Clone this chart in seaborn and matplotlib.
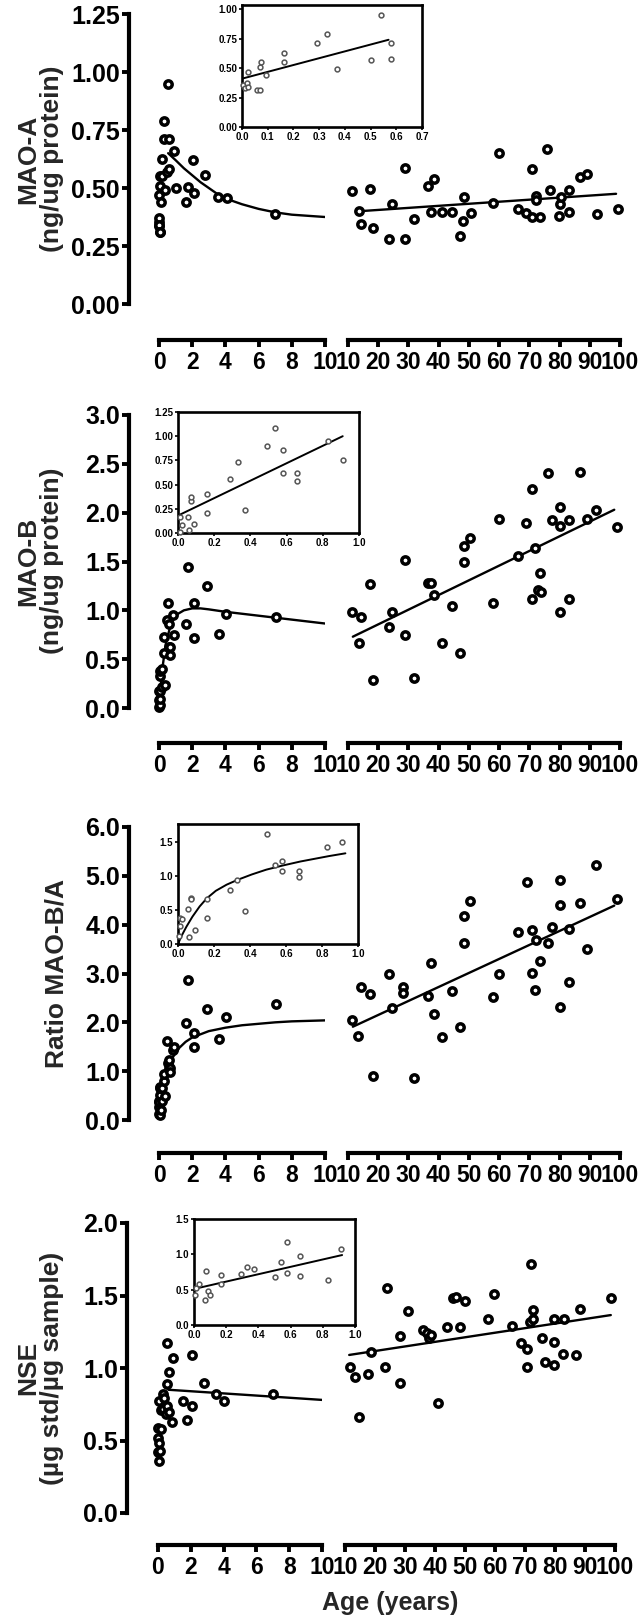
import numpy as np
import seaborn as sns
import matplotlib.pyplot as plt

# ---- values ----
left_ticks = [0, 2, 4, 6, 8, 10]
right_ticks = [10, 20, 30, 40, 50, 60, 70, 80, 90, 100]

# MAO-A
a_inf_x = [0.005, 0.01, 0.02, 0.025, 0.025, 0.06, 0.07, 0.07, 0.075, 0.095, 0.165, 0.165, 0.29, 0.33, 0.37, 0.50, 0.54, 0.58, 0.58]
a_inf_y = [0.355, 0.335, 0.37, 0.47, 0.34, 0.31, 0.31, 0.51, 0.55, 0.44, 0.625, 0.55, 0.71, 0.79, 0.49, 0.57, 0.95, 0.71, 0.58]
a_child_x = [0.92, 1.0, 1.6, 1.75, 2.05, 2.1, 2.8, 3.55, 4.1, 7.0]
a_child_y = [0.66, 0.50, 0.44, 0.505, 0.62, 0.48, 0.555, 0.46, 0.455, 0.39]
a_curve_x = [0.55, 1, 1.5, 2, 2.5, 3, 3.5, 4, 5, 6, 7, 8, 9, 10]
a_curve_y = [0.65, 0.62, 0.585, 0.555, 0.525, 0.50, 0.475, 0.455, 0.43, 0.41, 0.395, 0.385, 0.38, 0.375]
a_ad_x = [11.3, 13.8, 14.3, 17.4, 18.4, 23.5, 24.6, 28.7, 28.7, 31.7, 36.4, 38.4, 37.3, 41.1, 44.3, 47.2, 47.9, 48.3, 50.6, 58.1,
          60.1, 66.2, 68.9, 71.0, 71.0, 72.3, 72.3, 73.4, 75.7, 77.0, 79.8, 80.2, 80.4, 83.1, 83.1, 86.9, 89.2, 92.4, 99.4]
a_ad_y = [0.488, 0.40, 0.345, 0.494, 0.326, 0.279, 0.431, 0.279, 0.588, 0.365, 0.508, 0.537, 0.398, 0.398, 0.398, 0.293, 0.359,
          0.463, 0.391, 0.434, 0.652, 0.408, 0.391, 0.580, 0.376, 0.465, 0.45, 0.373, 0.667, 0.491, 0.379, 0.431, 0.463, 0.491,
          0.398, 0.549, 0.561, 0.388, 0.408]
a_line_x = [13.8, 98.7]
a_line_y = [0.40, 0.475]
a_inl_x = [0.0, 0.57]
a_inl_y = [0.41, 0.74]

# MAO-B
b_inf_x = [0.01, 0.02, 0.06, 0.013, 0.055, 0.09, 0.16, 0.07, 0.07, 0.16, 0.29, 0.33, 0.37, 0.49, 0.538, 0.58, 0.58, 0.66, 0.66, 0.83, 0.91]
b_inf_y = [0.01, 0.08, 0.035, 0.17, 0.17, 0.09, 0.21, 0.33, 0.375, 0.40, 0.56, 0.73, 0.24, 0.90, 1.08, 0.86, 0.625, 0.625, 0.54, 0.95, 0.75]
b_child_x = [1.64, 1.76, 2.13, 2.13, 2.87, 3.6, 4.05, 7.06]
b_child_y = [0.86, 1.44, 1.08, 0.72, 1.25, 0.76, 0.96, 0.93]
b_curve_x = [0.05, 0.2, 0.4, 0.7, 1.0, 1.5, 2.0, 2.5, 3.0, 4.0, 5.0, 6.0, 7.0, 8.0, 9.0, 10.0]
b_curve_y = [0.12, 0.4, 0.65, 0.85, 0.95, 1.0, 1.02, 1.02, 1.01, 0.985, 0.965, 0.945, 0.925, 0.905, 0.885, 0.865]
b_ad_x = [11.3, 13.8, 14.4, 17.4, 18.4, 23.5, 24.6, 28.7, 28.7, 31.7, 36.4, 37.3, 38.4, 41.1, 44.3, 47.2, 48.3, 48.3, 50.4, 58.1,
          60.1, 66.2, 68.9, 71.0, 71.0, 72.0, 73.0, 73.4, 73.7, 76.1, 77.5, 80.2, 80.2, 80.2, 83.1, 83.1, 86.9, 89.2, 92.0, 99.1]
b_ad_y = [0.98, 0.67, 0.93, 1.27, 0.29, 0.83, 0.98, 1.52, 0.75, 0.31, 1.28, 1.28, 1.16, 0.67, 1.04, 0.56, 1.49, 1.66, 1.74, 1.08,
          1.94, 1.56, 1.89, 2.24, 1.12, 1.64, 1.21, 1.38, 1.19, 2.41, 1.93, 2.06, 1.86, 0.98, 1.92, 1.12, 2.42, 1.94, 2.03, 1.85]
b_line_x = [11.6, 98.1]
b_line_y = [0.73, 2.03]
b_inl_x = [0.0, 0.91]
b_inl_y = [0.18, 1.0]

# Ratio MAO-B/A
c_inf_x = [0.005, 0.01, 0.013, 0.024, 0.055, 0.06, 0.074, 0.074, 0.093, 0.16, 0.16, 0.29, 0.33, 0.37, 0.494, 0.54, 0.58, 0.58, 0.67, 0.67, 0.83, 0.91]
c_inf_y = [0.12, 0.38, 0.26, 0.37, 0.52, 0.11, 0.68, 0.66, 0.20, 0.66, 0.38, 0.79, 0.94, 0.49, 1.61, 1.16, 1.22, 1.07, 1.07, 0.98, 1.43, 1.50]
c_child_x = [1.64, 1.76, 2.13, 2.13, 2.87, 3.6, 4.05, 7.06]
c_child_y = [1.98, 2.87, 1.78, 1.50, 2.28, 1.66, 2.11, 2.37]
c_curve_x = [0.01, 0.05, 0.1, 0.2, 0.3, 0.5, 0.8, 1.2, 1.6, 2, 3, 4, 5, 6, 7, 8, 9, 10]
c_curve_y = [0.04, 0.18, 0.33, 0.57, 0.76, 1.02, 1.27, 1.47, 1.60, 1.69, 1.82, 1.89, 1.94, 1.97, 2.0, 2.02, 2.03, 2.04]
c_ad_x = [11.3, 13.4, 14.4, 17.4, 18.4, 23.5, 24.6, 28.3, 28.3, 31.7, 36.4, 37.3, 38.4, 41.1, 44.3, 47.2, 48.3, 48.3, 50.4, 58.1,
          60.1, 66.2, 69.3, 71.0, 71.0, 72.0, 72.3, 73.4, 76.1, 77.5, 80.2, 80.2, 80.2, 83.1, 83.1, 86.9, 89.2, 92.0, 99.1]
c_ad_y = [2.04, 1.71, 2.72, 2.58, 0.90, 3.0, 2.29, 2.72, 2.6, 0.85, 2.53, 3.22, 2.17, 1.69, 2.65, 1.91, 4.18, 3.63, 4.49, 2.52,
          2.99, 3.84, 4.87, 3.89, 3.02, 2.66, 3.69, 3.25, 3.62, 3.96, 4.92, 4.4, 2.32, 3.92, 2.82, 4.45, 3.5, 5.22, 4.52]
c_line_x = [11.6, 98.1]
c_line_y = [1.91, 4.39]
c_inl_x = [0.0, 0.02, 0.046, 0.08, 0.12, 0.16, 0.21, 0.27, 0.33, 0.41, 0.49, 0.58, 0.68, 0.76, 0.84, 0.93]
c_inl_y = [0.0, 0.12, 0.25, 0.40, 0.55, 0.67, 0.78, 0.87, 0.94, 1.02, 1.09, 1.15, 1.21, 1.25, 1.29, 1.33]

# NSE
d_inf_x = [0.004, 0.015, 0.03, 0.066, 0.077, 0.087, 0.1, 0.166, 0.166, 0.29, 0.33, 0.37, 0.5, 0.54, 0.575, 0.575, 0.66, 0.66, 0.83, 0.91]
d_inf_y = [0.42, 0.52, 0.585, 0.36, 0.77, 0.48, 0.43, 0.71, 0.58, 0.72, 0.82, 0.79, 0.68, 0.89, 1.17, 0.74, 0.97, 0.70, 0.63, 1.07]
d_child_x = [1.55, 1.75, 2.05, 2.05, 2.83, 3.55, 4.05, 7.0]
d_child_y = [0.77, 0.64, 1.09, 0.74, 0.90, 0.82, 0.77, 0.82]
d_curve_x = [0.63, 10]
d_curve_y = [0.85, 0.78]
d_ad_x = [11.6, 13.4, 14.5, 17.5, 18.6, 23.4, 24.0, 28.4, 28.4, 31.1, 35.9, 37.3, 38.0, 38.6, 41.1, 44.1, 46.1, 47.1, 48.2, 50.0,
          57.7, 59.8, 65.6, 68.6, 70.7, 70.7, 71.8, 72.0, 72.5, 72.7, 75.7, 76.5, 79.5, 79.8, 79.8, 82.9, 82.5, 87.0, 88.4, 98.6]
d_ad_y = [1.01, 0.94, 0.66, 0.96, 1.11, 1.01, 1.55, 0.90, 1.22, 1.39, 1.26, 1.24, 1.21, 1.23, 0.76, 1.28, 1.48, 1.49, 1.28, 1.46,
          1.34, 1.51, 1.29, 1.17, 1.13, 1.01, 1.32, 1.72, 1.34, 1.40, 1.21, 1.04, 1.18, 1.02, 1.34, 1.34, 1.10, 1.09, 1.41, 1.48]
d_line_x = [11.4, 98.6]
d_line_y = [1.09, 1.365]
d_inl_x = [0.0, 0.92]
d_inl_y = [0.51, 0.99]

# ---- styling ----
sns.set_theme(style="ticks")
plt.rcParams['font.family'] = ['Liberation Sans', 'DejaVu Sans']
plt.rcParams['font.weight'] = 'bold'
plt.rcParams['axes.edgecolor'] = 'black'
plt.rcParams['xtick.color'] = 'black'
plt.rcParams['ytick.color'] = 'black'

W, H = 641, 1620
PT = 0.72  # points per pixel at 100 dpi
fig = plt.figure(figsize=(W / 100, H / 100), dpi=100)


def frac(x0, y0, x1, y1):
    return [x0 / W, 1 - y1 / H, (x1 - x0) / W, (y1 - y0) / H]


def main_panel(top, bottom, yaxis_x, lspan, rspan, bar_off, ymax, yticks, ylabels,
               inf_x, inf_y, child_x, child_y, cx, cy, ad_x, ad_y, lx, ly):
    axl = fig.add_axes(frac(lspan[0], top, lspan[1], bottom))
    axr = fig.add_axes(frac(rspan[0], top, rspan[1], bottom))
    for ax, lim, ticks in ((axl, (0, 10), left_ticks), (axr, (10, 100), right_ticks)):
        ax.set_xlim(*lim)
        ax.set_ylim(0, ymax)
        ax.patch.set_alpha(0)
        ax.spines['top'].set_visible(False)
        ax.spines['right'].set_visible(False)
        ax.spines['bottom'].set_position(('outward', bar_off * PT))
        ax.spines['bottom'].set_linewidth(3)
        ax.set_xticks(ticks)
        ax.set_xticklabels([str(t) for t in ticks])
        ax.set_xticks([10], minor=True)
        ax.tick_params(axis='x', which='major', direction='out', length=5, width=2.8,
                       labelsize=16.5, pad=3)
        ax.tick_params(axis='x', which='minor', direction='inout', length=13, width=2.8)
    axl.spines['left'].set_position(('outward', (lspan[0] - yaxis_x) * PT))
    axl.spines['left'].set_linewidth(3)
    axl.set_yticks(yticks)
    axl.set_yticklabels(ylabels)
    axl.tick_params(axis='y', direction='out', length=5, width=2.8, labelsize=18, pad=1.5)
    axr.spines['left'].set_visible(False)
    axr.set_yticks([])

    pt = dict(s=28, color='white', edgecolor='black', linewidth=2.5, clip_on=False, zorder=3)
    sns.scatterplot(x=np.concatenate([inf_x, child_x]), y=np.concatenate([inf_y, child_y]), ax=axl, **pt)
    sns.lineplot(x=cx, y=cy, ax=axl, color='black', linewidth=1.7, sort=False, estimator=None)
    sns.scatterplot(x=ad_x, y=ad_y, ax=axr, **pt)
    sns.lineplot(x=lx, y=ly, ax=axr, color='black', linewidth=1.7, sort=False, estimator=None)
    return axl, axr


def inset(rect, xmax, ymax, xt, xtl, yt, ytl, x, y, fx, fy):
    ax = fig.add_axes(frac(*rect))
    ax.set_xlim(0, xmax)
    ax.set_ylim(0, ymax)
    for s in ax.spines.values():
        s.set_visible(True)
        s.set_linewidth(1.9)
        s.set_color('black')
    ax.set_xticks(xt)
    ax.set_xticklabels(xtl)
    ax.set_yticks(yt)
    ax.set_yticklabels(ytl)
    ax.tick_params(direction='out', length=2.5, width=1.2, labelsize=7, pad=1)
    sns.scatterplot(x=x, y=y, ax=ax, s=12, color='white', edgecolor='#555555', linewidth=1.1,
                    clip_on=False, zorder=3)
    sns.lineplot(x=fx, y=fy, ax=ax, color='black', linewidth=1.4, sort=False, estimator=None)


# panel 1: MAO-A
main_panel(14, 304, 129, (159, 325), (348, 620), 36, 1.25,
           [0, 0.25, 0.5, 0.75, 1.0, 1.25], ['0.00', '0.25', '0.50', '0.75', '1.00', '1.25'],
           a_inf_x, a_inf_y, a_child_x, a_child_y, a_curve_x, a_curve_y, a_ad_x, a_ad_y, a_line_x, a_line_y)
inset((242, 5, 422, 127), 0.7, 1.035,
      [0, .1, .2, .3, .4, .5, .6, .7], ['0.0', '0.1', '0.2', '0.3', '0.4', '0.5', '0.6', '0.7'],
      [0, .25, .5, .75, 1.0], ['0.00', '0.25', '0.50', '0.75', '1.00'],
      a_inf_x, a_inf_y, a_inl_x, a_inl_y)

# panel 2: MAO-B
main_panel(415, 708, 129, (159, 325), (348, 620), 35, 3.0,
           [0, 0.5, 1.0, 1.5, 2.0, 2.5, 3.0], ['0.0', '0.5', '1.0', '1.5', '2.0', '2.5', '3.0'],
           b_inf_x, b_inf_y, b_child_x, b_child_y, b_curve_x, b_curve_y, b_ad_x, b_ad_y, b_line_x, b_line_y)
inset((178, 412, 359, 533), 1.0, 1.25,
      [0, .2, .4, .6, .8, 1.0], ['0.0', '0.2', '0.4', '0.6', '0.8', '1.0'],
      [0, .25, .5, .75, 1.0, 1.25], ['0.00', '0.25', '0.50', '0.75', '1.00', '1.25'],
      b_inf_x, b_inf_y, b_inl_x, b_inl_y)

# panel 3: ratio
main_panel(827, 1120, 129, (159, 325), (348, 620), 33, 6.0,
           [0, 1, 2, 3, 4, 5, 6], ['0.0', '1.0', '2.0', '3.0', '4.0', '5.0', '6.0'],
           c_inf_x, c_inf_y, c_child_x, c_child_y, c_curve_x, c_curve_y, c_ad_x, c_ad_y, c_line_x, c_line_y)
inset((178, 824, 358, 944), 1.0, 1.76,
      [0, .2, .4, .6, .8, 1.0], ['0.0', '0.2', '0.4', '0.6', '0.8', '1.0'],
      [0, .5, 1.0, 1.5], ['0.0', '0.5', '1.0', '1.5'],
      c_inf_x, c_inf_y, c_inl_x, c_inl_y)

# panel 4: NSE
main_panel(1223, 1513, 127, (158, 322), (345, 615), 32, 2.0,
           [0, 0.5, 1.0, 1.5, 2.0], ['0.0', '0.5', '1.0', '1.5', '2.0'],
           d_inf_x, d_inf_y, d_child_x, d_child_y, d_curve_x, d_curve_y, d_ad_x, d_ad_y, d_line_x, d_line_y)
inset((194, 1219, 355, 1325), 1.0, 1.5,
      [0, .2, .4, .6, .8, 1.0], ['0.0', '0.2', '0.4', '0.6', '0.8', '1.0'],
      [0, .5, 1.0, 1.5], ['0.0', '0.5', '1.0', '1.5'],
      d_inf_x, d_inf_y, d_inl_x, d_inl_y)

# axis titles
lab = dict(rotation=90, ha='center', va='center', multialignment='center',
           fontsize=19, fontweight='bold', linespacing=1.0)
fig.text(40 / W, 1 - 159 / H, 'MAO-A\n(ng/ug protein)', **lab)
fig.text(40 / W, 1 - 561 / H, 'MAO-B\n(ng/ug protein)', **lab)
fig.text(57 / W, 1 - 973 / H, 'Ratio MAO-B/A', **lab)
fig.text(40 / W, 1 - 1368 / H, 'NSE\n(\u00b5g std/\u00b5g sample)', **lab)
fig.text(390 / W, 1 - 1603 / H, 'Age (years)', ha='center', va='center', fontsize=18, fontweight='bold')

fig.savefig('out.png', dpi=100)
